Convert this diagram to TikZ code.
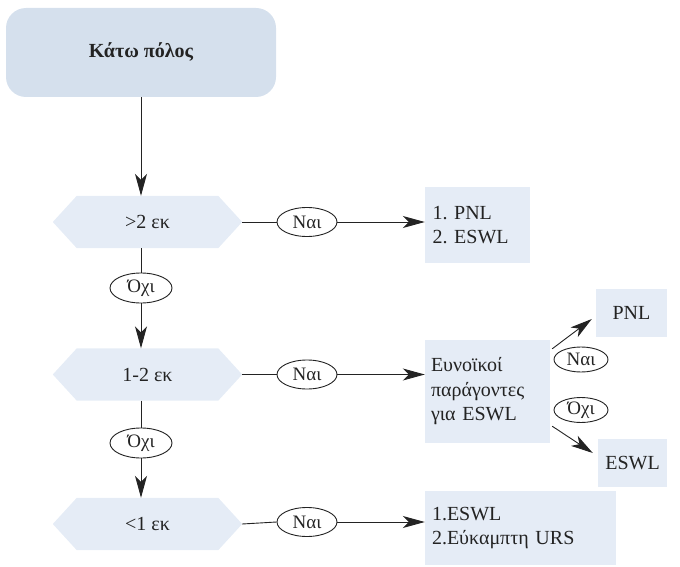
\documentclass[tikz,border=0pt]{standalone}
\usepackage{fontspec}
\setmainfont{Liberation Serif}
\usetikzlibrary{arrows.meta,shapes.geometric,backgrounds,calc}
\definecolor{topcol}{RGB}{213,224,237}
\definecolor{boxcol}{RGB}{229,236,246}
\definecolor{ink}{RGB}{35,35,35}
\tikzset{
  every node/.style={text=ink},
  conn/.style={draw=ink, line width=0.9pt},
  arr/.style={conn, -{Stealth[length=22pt,width=12pt,inset=6pt]}},
  topbox/.style={rectangle, rounded corners=20pt, fill=topcol, minimum width=270pt, minimum height=89pt, inner sep=0pt, font=\fontsize{20}{24}\selectfont\bfseries},
  hexnode/.style={rectangle, minimum width=189pt, minimum height=52pt, inner sep=0pt, font=\fontsize{20}{24}\selectfont},
  hexfill/.style={fill=boxcol},
  infobox/.style={rectangle, fill=boxcol, inner sep=0pt, font=\fontsize{20}{24.5}\selectfont, align=left},
  oval/.style={ellipse, draw=ink, line width=0.9pt, inner sep=0pt, minimum width=60pt, minimum height=29pt, font=\fontsize{19}{22}\selectfont},
  smalloval/.style={oval, minimum width=54pt, minimum height=25pt},
}
\newcommand{\hexpath}[1]{%
  \fill[hexfill] (#1.west) -- ([xshift=24pt]#1.north west) -- ([xshift=-24pt]#1.north east) -- (#1.east) -- ([xshift=-24pt]#1.south east) -- ([xshift=24pt]#1.south west) -- cycle;}
\begin{document}
\frenchspacing
\begin{tikzpicture}[x=1pt,y=-1pt]
\useasboundingbox (0,0) rectangle (680,567);

\node[topbox] (top) at (141,52.5) {\raisebox{5pt}{Κάτω πόλος}};

\node[hexnode] (h1) at (147.5,222) {>2 εκ};
\node[hexnode] (h2) at (147.5,374.5) {1-2 εκ};
\node[hexnode] (h3) at (147.5,524) {<1 εκ};
\begin{scope}[on background layer]
\hexpath{h1}
\hexpath{h2}
\hexpath{h3}
\end{scope}

\node[oval] (n1) at (307,222) {Ναι};
\node[oval] (n2) at (307,374.5) {Ναι};
\node[oval] (n3) at (307,522) {Ναι};
\node[oval, minimum width=62pt, minimum height=30pt] (o1) at (141,288) {Όχι};
\node[oval, minimum width=62pt, minimum height=30pt] (o2) at (141,443) {Όχι};

\node[infobox, minimum width=105pt, minimum height=76pt, text width=90pt] (b1) at (477.5,225) {1. PNL\\2. ESWL};
\node[infobox, minimum width=125pt, minimum height=103pt, text width=113pt] (b2) at (487.5,391.5) {Ευνοϊκοί\\παράγοντες\\για ESWL};
\node[infobox, minimum width=191pt, minimum height=74pt, text width=177pt] (b3) at (520.5,528) {1.ESWL\\2.Εύκαμπτη URS};
\node[infobox, minimum width=71pt, minimum height=48pt, align=center] (pnl) at (631.5,313) {PNL};
\node[infobox, minimum width=69pt, minimum height=48pt, align=center] (eswl) at (632.5,463) {ESWL};

\node[smalloval] (n4) at (581,359.5) {Ναι};
\node[smalloval] (o3) at (581,410) {Όχι};

% vertical chain
\draw[arr] (top.south) -- (top.south |- h1.north);
\draw[conn] (top.south |- h1.south) -- (o1.north);
\draw[arr] (o1.south) -- (o1.south |- h2.north);
\draw[conn] (top.south |- h2.south) -- (o2.north);
\draw[arr] (o2.south) -- (o2.south |- h3.north);

% horizontal
\draw[conn] (h1.east) -- (n1.west);
\draw[arr] (n1.east) -- (n1.east -| b1.west);
\draw[conn] (h2.east) -- (n2.west);
\draw[arr] (n2.east) -- (n2.east -| b2.west);
\draw[conn] (h3.east) -- (n3.west);
\draw[arr] (n3.east) -- (n3.east -| b3.west);

% branches
\draw[arr] ($(b2.north east)+(2,9)$) -- ($(pnl.west)+(-4,6)$);
\draw[arr] ($(b2.south east)+(2,-17)$) -- ($(eswl.west)+(-5,-10)$);
\end{tikzpicture}
\end{document}
